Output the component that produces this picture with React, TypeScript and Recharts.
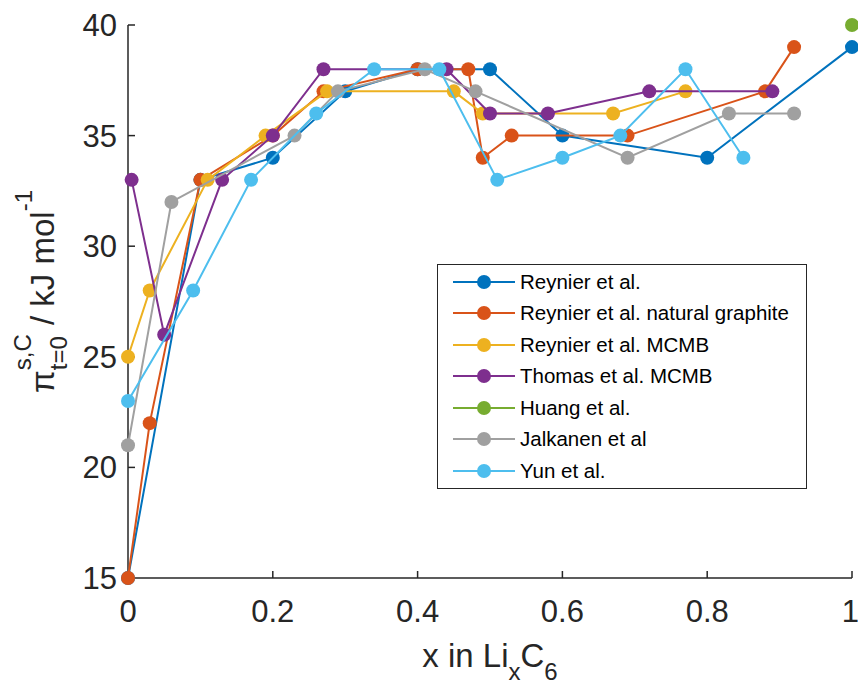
import { ScatterChart, Scatter, XAxis, YAxis, Legend, Label } from "recharts";

// x in LixC6 / pi (kJ mol^-1)
const reynierX = [0, 0.1, 0.2, 0.3, 0.4, 0.5, 0.6, 0.8, 1];
const reynierY = [15, 33, 34, 37, 38, 38, 35, 34, 39];
const naturalX = [0, 0.03, 0.1, 0.2, 0.27, 0.4, 0.47, 0.49, 0.53, 0.69, 0.88, 0.92];
const naturalY = [15, 22, 33, 35, 37, 38, 38, 34, 35, 35, 37, 39];
const mcmbX = [0, 0.03, 0.11, 0.19, 0.275, 0.45, 0.49, 0.67, 0.77];
const mcmbY = [25, 28, 33, 35, 37, 37, 36, 36, 37];
const thomasX = [0.005, 0.05, 0.13, 0.2, 0.27, 0.44, 0.5, 0.58, 0.72, 0.89];
const thomasY = [33, 26, 33, 35, 38, 38, 36, 36, 37, 37];
const huangX = [1];
const huangY = [40];
const jalkanenX = [0, 0.06, 0.23, 0.29, 0.41, 0.48, 0.69, 0.83, 0.92];
const jalkanenY = [21, 32, 35, 37, 38, 37, 34, 36, 36];
const yunX = [0, 0.09, 0.17, 0.26, 0.34, 0.43, 0.51, 0.6, 0.68, 0.77, 0.85];
const yunY = [23, 28, 33, 36, 38, 38, 33, 34, 35, 38, 34];

const xTicks = [0, 0.2, 0.4, 0.6, 0.8, 1];
const yTicks = [15, 20, 25, 30, 35, 40];

const pts = (xs: number[], ys: number[]) => xs.map((x, i) => ({ x, y: ys[i] }));

const SERIES = [
  { name: "Reynier et al.", color: "#0072BD", data: pts(reynierX, reynierY) },
  { name: "Reynier et al. natural graphite", color: "#D95319", data: pts(naturalX, naturalY) },
  { name: "Reynier et al. MCMB", color: "#EDB120", data: pts(mcmbX, mcmbY) },
  { name: "Thomas et al. MCMB", color: "#7E2F8E", data: pts(thomasX, thomasY) },
  { name: "Huang et al.", color: "#77AC30", data: pts(huangX, huangY) },
  { name: "Jalkanen et al", color: "#A0A0A0", data: pts(jalkanenX, jalkanenY) },
  { name: "Yun et al.", color: "#4DBEEE", data: pts(yunX, yunY) },
];

const AXIS = "#262626";
const FONT = "'Liberation Sans', Arial, Helvetica, sans-serif";
const axisLine = { stroke: AXIS, strokeWidth: 1.5 };
const tickStyle = { fontSize: 31, fill: AXIS };

const XTitle = (props: any) => {
  const { x, y, width } = props.viewBox;
  return (
    <text x={x + width / 2} y={y + 89} textAnchor="middle" fontSize={33} fill={AXIS}>
      x in Li<tspan fontSize={24} dy={13}>x</tspan>
      <tspan dy={-13}>C</tspan>
      <tspan fontSize={24} dy={13}>6</tspan>
    </text>
  );
};

const YTitle = (props: any) => {
  const { x, y, height } = props.viewBox;
  const cx = x - 14;
  const cy = y + height / 2 - 10;
  return (
    <text transform={`translate(${cx},${cy}) rotate(-90)`} textAnchor="middle" fontSize={33} fill={AXIS}>
      π<tspan fontSize={24} dy={-23}>s,C</tspan>
      <tspan fontSize={24} dx={-36} dy={36}>t=0</tspan>
      <tspan dx={2} dy={-13}> / kJ mol</tspan>
      <tspan fontSize={24} dy={-22}>-1</tspan>
    </text>
  );
};

const LegendBox = () => (
  <div
    style={{
      border: `1px solid ${AXIS}`,
      background: "#fff",
      padding: "1px 14px 1px 15px",
      fontSize: 20.5,
      color: "#000",
      fontFamily: FONT,
    }}
  >
    {SERIES.map((s) => (
      <div key={s.name} style={{ display: "flex", alignItems: "center", height: 31.5 }}>
        <svg width={62} height={16}>
          <line x1={0} y1={8} x2={62} y2={8} stroke={s.color} strokeWidth={2} />
          <circle cx={31} cy={8} r={7} fill={s.color} />
        </svg>
        <span style={{ marginLeft: 5, whiteSpace: "nowrap" }}>{s.name}</span>
      </div>
    ))}
  </div>
);

export default function App() {
  return (
    <div style={{ width: 858, height: 689, fontFamily: FONT, background: "#fff" }}>
      <style>{"body{margin:0}"}</style>
      <ScatterChart width={858} height={689} margin={{ top: 25, right: 6, bottom: 51, left: 68 }}>
        <XAxis
          dataKey="x"
          type="number"
          domain={[0, 1]}
          ticks={xTicks}
          height={60}
          axisLine={axisLine}
          tickLine={axisLine}
          tickSize={-7}
          tickMargin={29}
          tick={tickStyle}
        >
          <Label content={XTitle} />
        </XAxis>
        <YAxis
          dataKey="y"
          type="number"
          domain={[15, 40]}
          ticks={yTicks}
          width={60}
          axisLine={axisLine}
          tickLine={axisLine}
          tickSize={-7}
          tickMargin={18}
          tick={tickStyle}
        >
          <Label content={YTitle} />
        </YAxis>
        <XAxis
          xAxisId="top"
          orientation="top"
          type="number"
          domain={[0, 1]}
          ticks={xTicks}
          allowDataOverflow
          height={0}
          axisLine={axisLine}
          tickLine={axisLine}
          tickSize={-7}
          tick={false}
        />
        <YAxis
          yAxisId="right"
          orientation="right"
          type="number"
          domain={[15, 40]}
          ticks={yTicks}
          allowDataOverflow
          width={0}
          axisLine={axisLine}
          tickLine={axisLine}
          tickSize={-7}
          tick={false}
        />
        {SERIES.map((s) => (
          <Scatter
            key={s.name}
            name={s.name}
            data={s.data}
            fill={s.color}
            line={{ stroke: s.color, strokeWidth: 2 }}
            shape={(p: any) => <circle cx={p.cx} cy={p.cy} r={7} fill={s.color} />}
            isAnimationActive={false}
          />
        ))}
        <Legend
          layout="vertical"
          align="center"
          verticalAlign="middle"
          wrapperStyle={{ left: 437, top: 264, width: 370 }}
          content={() => <LegendBox />}
        />
      </ScatterChart>
    </div>
  );
}
